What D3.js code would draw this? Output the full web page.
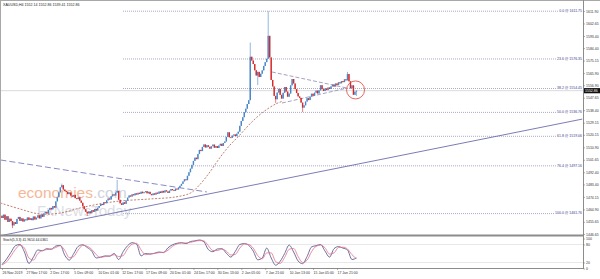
<!DOCTYPE html>
<html>
<head>
<meta charset="utf-8">
<script src="https://cdn.jsdelivr.net/npm/d3@7"></script>
<style>
  body { margin: 0; background: #fff; }
  svg { display: block; font-family: "Liberation Sans", Arial, sans-serif; }
  .axis text { fill: #333; font-size: 3.5px; }
  .axis line { stroke: #666; stroke-width: 0.5; }
  .axis path { display: none; }
</style>
</head>
<body>
<svg id="chart" width="600" height="279"></svg>
<script>
// XAUUSD H4 closes, one per bar (open = previous close)
var firstOpen = 1460.2;
var closes = [
  1458.5, 1461.0, 1457.2, 1459.8, 1455.6, 1458.0,
  1456.2, 1453.0, 1455.4, 1454.1,
  1457.8, 1459.3, 1456.4, 1458.2, 1455.9, 1457.5, 1456.8, 1458.9, 1457.1,
  1458.3, 1456.9, 1459.6, 1457.4, 1458.8, 1460.5, 1458.2, 1461.0, 1459.4, 1462.0,
  1463.1, 1461.8, 1464.5, 1466.0, 1464.9, 1467.3, 1466.2,
  1470.8, 1473.9, 1477.5, 1481.2, 1482.8, 1479.6, 1478.4,
  1477.9, 1476.2, 1477.4, 1475.1, 1474.3, 1475.6, 1473.2, 1472.5, 1473.8, 1471.4,
  1469.8, 1467.2, 1465.0, 1463.1, 1461.9,
  1463.4, 1462.0, 1464.3, 1463.1, 1465.2, 1464.0, 1466.1,
  1467.4, 1468.9, 1468.1, 1470.2, 1469.5, 1471.6, 1473.0, 1472.2,
  1474.6, 1476.0, 1475.2, 1477.3, 1478.5,
  1472.0, 1469.4, 1468.2, 1470.1, 1469.0, 1471.5,
  1473.6, 1475.2, 1474.4, 1476.1, 1475.3, 1476.8,
  1475.9, 1477.2, 1476.4, 1478.0, 1476.9, 1477.6, 1478.4, 1476.8, 1477.9, 1476.2,
  1475.4, 1476.7, 1475.8, 1477.3, 1476.5, 1478.1, 1477.0, 1478.6, 1477.4, 1479.0,
  1478.2, 1477.1, 1478.8, 1480.0, 1479.1, 1478.5, 1480.3, 1479.6, 1481.0,
  1482.4, 1483.8, 1485.6, 1487.2, 1486.5, 1489.8, 1492.4,
  1495.1, 1497.9, 1500.8, 1503.2, 1502.1, 1505.9, 1509.0, 1508.1, 1511.2, 1513.0,
  1510.8, 1512.4, 1511.3, 1509.9, 1511.7, 1512.9, 1510.6, 1511.8, 1510.4, 1512.2,
  1513.5, 1511.9, 1514.1,
  1515.2, 1518.6, 1522.0, 1518.3,
  1517.9, 1519.6, 1520.4, 1519.2, 1521.0, 1522.5,
  1526.8, 1530.4, 1533.2, 1536.9, 1539.5, 1543.0, 1545.8,
  1578.0, 1575.2, 1572.6, 1568.0, 1564.1, 1566.8,
  1563.0, 1565.4, 1567.9, 1571.2, 1574.0, 1576.5,
  1593.5,
  1577.5, 1560.8, 1556.0, 1549.0, 1546.5, 1551.5,
  1554.2, 1549.8, 1547.0, 1551.3, 1555.6, 1552.2, 1548.4, 1550.7,
  1556.8, 1561.5,
  1558.2, 1554.0, 1551.1, 1548.6, 1547.5,
  1544.0, 1540.3, 1542.0,
  1544.8, 1547.3, 1545.9, 1548.5,
  1550.6, 1549.2, 1551.4, 1552.9, 1550.8, 1553.1, 1556.9,
  1554.0, 1552.6, 1554.5, 1553.3, 1555.2, 1554.1, 1556.0,
  1557.4, 1555.9, 1558.2, 1557.0, 1559.1, 1558.3, 1560.0, 1559.2, 1561.3, 1560.5,
  1565.2,
  1559.8, 1554.6, 1556.8, 1549.8, 1552.14, 1552.86
];
// notable wicks: [bar, "h"|"l", price]
var extremes = [
  [7, "l", 1451.0], [40, "h", 1484.0], [57, "l", 1460.0], [77, "h", 1486.7],
  [166, "h", 1588.5], [171, "l", 1557.0], [178, "h", 1611.75], [183, "l", 1543.7],
  [201, "l", 1537.0], [231, "h", 1566.8], [237, "l", 1548.9]
];

var priceTicks = [1611.90, 1602.65, 1593.40, 1584.40, 1575.15, 1565.90, 1556.90, 1547.65,
  1538.40, 1529.15, 1520.15, 1510.90, 1501.65, 1492.40, 1483.40, 1474.15, 1464.90, 1455.65, 1446.65];
var lastPrice = 1552.86;

var timeLabels = ["26 Nov 2019", "27 Nov 17:00", "2 Dec 17:00", "5 Dec 09:00", "10 Dec 01:00",
  "12 Dec 17:00", "17 Dec 09:00", "20 Dec 01:00", "24 Dec 17:00", "30 Dec 13:00", "2 Jan 05:00",
  "7 Jan 21:00", "10 Jan 13:00", "15 Jan 05:00", "17 Jan 21:00"];
var timeStep = 16;

var fibLevels = ["0.0", "23.6", "38.2", "50.0", "61.8", "76.4", "100.0"];
var fibPrices = [1611.75, 1576.35, 1554.45, 1536.76, 1519.06, 1497.16, 1461.76];
var fibStartBar = 81;

// stochastic, sampled every 3 bars
var stochStep = 3;
var stochMain = [13, 31, 54, 76, 80, 55, 17, 38, 62, 59, 66, 64, 75, 77, 44, 28, 50, 74, 79, 70,
  58, 35, 38, 42, 41, 50, 30, 56, 76, 86, 81, 42, 50, 48, 51, 55, 53, 69, 79, 84,
  86, 83, 90, 92, 95, 89, 63, 56, 65, 66, 51, 38, 57, 80, 83, 77, 58, 29, 35, 68,
  35, 11, 24, 50, 78, 55, 25, 16, 40, 72, 76, 80, 58, 38, 66, 73, 68, 62, 30, 35];
var stochSignal = [12, 22, 42, 64, 78, 68, 35, 28, 50, 60, 63, 65, 70, 76, 60, 36, 40, 62, 77, 74,
  64, 46, 37, 40, 42, 46, 40, 43, 66, 81, 84, 62, 46, 49, 50, 53, 54, 61, 74, 82,
  85, 85, 87, 91, 93, 92, 76, 60, 60, 65, 58, 45, 47, 68, 82, 80, 68, 43, 32, 52,
  52, 23, 17, 37, 64, 67, 40, 20, 28, 56, 74, 78, 69, 48, 52, 70, 71, 65, 46, 33];
var stochLevels = [80, 20];
var stochTicks = [100, 80, 20, 0];

// drawn objects: [bar, price]
var trendSolid = [[-1, 1445.4], [388, 1531.8]];
var trendDashed = [[-1, 1501.5], [137, 1477.8]];
var triUpper = [[180.5, 1566.7], [230.7, 1554.8]];
var triLower = [[187.2, 1543.7], [230.7, 1554.8]];
var maCurve = [[-1, 1469.6], [12, 1465.2], [25, 1461.5], [39, 1462.2], [52, 1465.9], [65, 1468.9],
  [79, 1471.1], [99, 1472.6], [116, 1474.1], [126, 1477.0], [132, 1482.9], [139, 1492.6],
  [146, 1503.7], [152, 1512.0], [159, 1520.0], [166, 1528.5], [174, 1536.5], [183, 1543.0], [188, 1545.2]];
var circleMark = [236.4, 1553.4];

var svg = d3.select("#chart");
var W = 600, axisX = 583, mainBottom = 235, stochTop = 236, stochBottom = 268;

var x = d3.scaleLinear().domain([0, 224]).range([2, 337]);
var y = d3.scaleLinear().domain([1446.65, 1611.9]).range([234, 11]);
var ys = d3.scaleLinear().domain([0, 100]).range([268.5, 238.5]);

var defs = svg.append("defs");
defs.append("clipPath").attr("id", "clipMain").append("rect")
  .attr("x", 1).attr("y", 1).attr("width", axisX - 1).attr("height", mainBottom - 1);
defs.append("clipPath").attr("id", "clipStoch").append("rect")
  .attr("x", 1).attr("y", stochTop + 1).attr("width", axisX - 1).attr("height", stochBottom - stochTop - 1);

var main = svg.append("g").attr("clip-path", "url(#clipMain)");

// watermark
var wm = main.append("g").attr("opacity", 0.8);
var t1 = wm.append("text").attr("x", 18).attr("y", 198).attr("font-size", 15.5);
t1.append("tspan").attr("fill", "#f5a77f").text("economies");
t1.append("tspan").attr("fill", "#c4c8d4").text(".com");
wm.append("text").attr("x", 37).attr("y", 216).attr("font-size", 15)
  .attr("fill", "#d3d6de").text("FxNewsToday");

// bid line
main.append("line").attr("x1", 1).attr("x2", axisX)
  .attr("y1", y(lastPrice)).attr("y2", y(lastPrice))
  .attr("stroke", "#c0c0c0").attr("stroke-width", 0.6);

// fibonacci
var fib = main.append("g");
fibPrices.forEach(function (p, k) {
  var txt = fib.append("text").attr("x", axisX - 1).attr("y", y(p) + 0.8)
    .attr("text-anchor", "end").attr("font-size", 3.5).attr("fill", "#3a3a8c")
    .text(fibLevels[k] + " @ " + p.toFixed(2));
  var w = txt.node().getComputedTextLength();
  fib.append("line").attr("x1", x(fibStartBar)).attr("x2", axisX - 2 - w)
    .attr("y1", y(p)).attr("y2", y(p))
    .attr("stroke", "#6a6a9c").attr("stroke-width", 0.7).attr("stroke-dasharray", "0.8,1.2");
});

// trend lines
function seg(pts, col, dash, sw) {
  main.append("line")
    .attr("x1", x(pts[0][0])).attr("y1", y(pts[0][1]))
    .attr("x2", x(pts[1][0])).attr("y2", y(pts[1][1]))
    .attr("stroke", col).attr("stroke-width", sw).attr("stroke-dasharray", dash);
}
seg(trendSolid, "#6464a8", null, 0.85);
seg(trendDashed, "#7b7bbf", "6,3", 0.9);
seg(triUpper, "#8a8ab8", "4,2", 0.8);
seg(triLower, "#8a8ab8", "4,2", 0.8);

main.append("path").datum(maCurve)
  .attr("d", d3.line().x(function (d) { return x(d[0]); }).y(function (d) { return y(d[1]); })
    .curve(d3.curveCatmullRom))
  .attr("fill", "none").attr("stroke", "#b0604e").attr("stroke-width", 0.8)
  .attr("stroke-dasharray", "2,1.5");

// candles
var bars = closes.map(function (c, i) {
  var o = i === 0 ? firstOpen : closes[i - 1];
  return { i: i, o: o, c: c, h: Math.max(o, c), l: Math.min(o, c) };
});
extremes.forEach(function (e) { bars[e[0]][e[1]] = e[2]; });

var upCol = "#4a86c8", dnCol = "#d62a2a";
var cg = main.append("g");
cg.selectAll("line.wick").data(bars).enter().append("line")
  .attr("x1", function (d) { return x(d.i); }).attr("x2", function (d) { return x(d.i); })
  .attr("y1", function (d) { return y(d.h); }).attr("y2", function (d) { return y(d.l); })
  .attr("stroke", function (d) { return d.c >= d.o ? upCol : dnCol; })
  .attr("stroke-width", 0.6);
cg.selectAll("rect").data(bars).enter().append("rect")
  .attr("x", function (d) { return x(d.i) - 0.7; }).attr("width", 1.4)
  .attr("y", function (d) { return y(Math.max(d.o, d.c)); })
  .attr("height", function (d) { return Math.max(0.8, Math.abs(y(d.o) - y(d.c))); })
  .attr("fill", function (d) { return d.c >= d.o ? upCol : dnCol; });

// red circle
main.append("circle").attr("cx", x(circleMark[0])).attr("cy", y(circleMark[1])).attr("r", 9)
  .attr("fill", "none").attr("stroke", "#e0403a").attr("stroke-width", 0.8);

// title
svg.append("text").attr("x", 3).attr("y", 5.5).attr("font-size", 3.6).attr("fill", "#222")
  .text("XAUUSD,H4  1552.14 1552.86 1539.41 1552.86");

// stochastic panel
var sp = svg.append("g").attr("clip-path", "url(#clipStoch)");
stochLevels.forEach(function (v) {
  sp.append("line").attr("x1", 1).attr("x2", axisX).attr("y1", ys(v)).attr("y2", ys(v))
    .attr("stroke", "#d8d8d8").attr("stroke-width", 0.6);
});
var sline = d3.line().x(function (d, k) { return x(k * stochStep); }).y(function (d) { return ys(d); })
  .curve(d3.curveMonotoneX);
sp.append("path").datum(stochMain).attr("d", sline)
  .attr("fill", "none").attr("stroke", "#4a4a86").attr("stroke-width", 0.8);
sp.append("path").datum(stochSignal).attr("d", sline)
  .attr("fill", "none").attr("stroke", "#e0708c").attr("stroke-width", 0.8);
svg.append("text").attr("x", 3).attr("y", 241).attr("font-size", 3.4).attr("fill", "#222")
  .text("Stoch(5,3,3) 41.9614 44.0361");

// frame
var frame = svg.append("g").attr("fill", "none");
frame.append("line").attr("x1", 0).attr("x2", W).attr("y1", 0.5).attr("y2", 0.5)
  .attr("stroke", "#a8a8a8");
frame.append("line").attr("x1", 0.5).attr("x2", 0.5).attr("y1", 0).attr("y2", stochBottom)
  .attr("stroke", "#a8a8a8");
frame.append("line").attr("x1", 0).attr("x2", axisX).attr("y1", 235.5).attr("y2", 235.5)
  .attr("stroke", "#8c8c8c").attr("stroke-width", 2);
frame.append("line").attr("x1", 0).attr("x2", axisX).attr("y1", stochBottom + 0.5).attr("y2", stochBottom + 0.5)
  .attr("stroke", "#8c8c8c").attr("stroke-width", 1);
frame.append("line").attr("x1", axisX + 0.5).attr("x2", axisX + 0.5).attr("y1", 0).attr("y2", stochBottom + 1)
  .attr("stroke", "#8c8c8c").attr("stroke-width", 1);

// axes
svg.append("g").attr("class", "axis").attr("transform", "translate(" + (axisX + 0.5) + ",0)")
  .call(d3.axisRight(y).tickValues(priceTicks).tickSize(1.5).tickPadding(1)
    .tickFormat(d3.format(".2f")));
svg.append("g").attr("class", "axis").attr("transform", "translate(" + (axisX + 0.5) + ",0)")
  .call(d3.axisRight(ys).tickValues(stochTicks).tickSize(1.5).tickPadding(1));

var timeIdx = timeLabels.map(function (d, k) { return k * timeStep; });
var xa = svg.append("g").attr("class", "axis").attr("transform", "translate(0," + (stochBottom + 0.5) + ")")
  .call(d3.axisBottom(x).tickValues(timeIdx).tickSize(1.5).tickPadding(1.5)
    .tickFormat(function (d, k) { return timeLabels[k]; }));
xa.selectAll("text").attr("text-anchor", "start").attr("font-size", 3.2);

// current price box
var bg = svg.append("g");
bg.append("rect").attr("x", axisX + 1).attr("y", y(lastPrice) - 2.6).attr("width", W - axisX - 1).attr("height", 5.2)
  .attr("fill", "#111");
bg.append("text").attr("x", axisX + 2).attr("y", y(lastPrice) + 1.3).attr("font-size", 3.5)
  .attr("fill", "#fff").text(lastPrice.toFixed(2));
</script>
</body>
</html>
